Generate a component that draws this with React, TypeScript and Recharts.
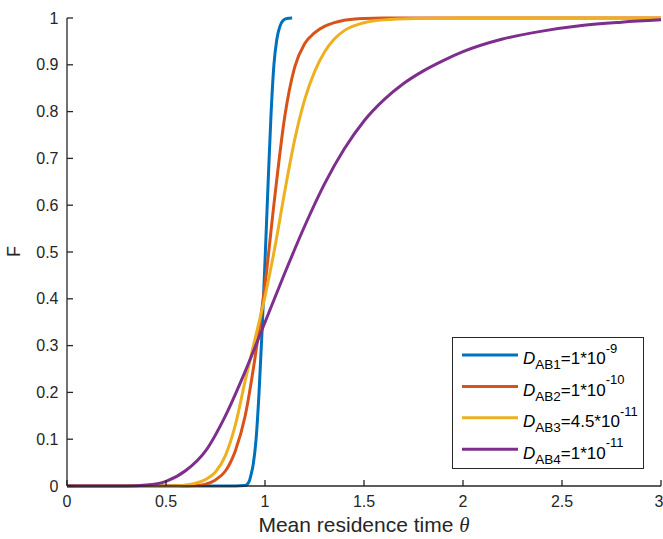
import React from "react";
import { LineChart, Line, XAxis, YAxis, Legend } from "recharts";

// Cumulative residence time distributions F(θ) for four diffusivities
const thetaAB1 = [0, 0.85, 0.9, 0.92, 0.93, 0.94, 0.955, 0.97, 0.985, 1.0, 1.015, 1.03, 1.045, 1.06, 1.075, 1.09, 1.11, 1.137];
const fAB1 = [0, 0, 0.001, 0.01, 0.025, 0.045, 0.1, 0.2, 0.33, 0.48, 0.64, 0.79, 0.9, 0.955, 0.982, 0.994, 0.999, 1.0];

const thetaAB2 = [0, 0.6, 0.65, 0.7, 0.75, 0.8, 0.85, 0.9, 0.95, 1.0, 1.05, 1.1, 1.15, 1.2, 1.25, 1.3, 1.35, 1.4, 1.5, 1.6, 2.0, 3.0];
const fAB2 = [0, 0, 0.001, 0.004, 0.013, 0.032, 0.075, 0.15, 0.275, 0.43, 0.62, 0.79, 0.895, 0.945, 0.968, 0.982, 0.99, 0.995, 0.999, 1.0, 1.0, 1.0];

const thetaAB3 = [0, 0.55, 0.6, 0.65, 0.7, 0.75, 0.8, 0.85, 0.9, 0.95, 1.0, 1.05, 1.1, 1.15, 1.2, 1.25, 1.3, 1.35, 1.4, 1.5, 1.6, 1.8, 2.0, 3.0];
const fAB3 = [0, 0, 0.002, 0.006, 0.014, 0.03, 0.065, 0.13, 0.225, 0.315, 0.405, 0.51, 0.63, 0.74, 0.825, 0.885, 0.927, 0.955, 0.973, 0.99, 0.996, 0.999, 1.0, 1.0];

const thetaAB4 = [0, 0.3, 0.4, 0.5, 0.6, 0.7, 0.8, 0.9, 1.0, 1.1, 1.2, 1.3, 1.4, 1.5, 1.6, 1.7, 1.8, 1.9, 2.0, 2.2, 2.4, 2.6, 2.8, 3.0];
const fAB4 = [0, 0, 0.002, 0.01, 0.033, 0.075, 0.15, 0.245, 0.35, 0.455, 0.555, 0.645, 0.72, 0.78, 0.825, 0.86, 0.887, 0.909, 0.928, 0.955, 0.972, 0.984, 0.991, 0.996];

const xTicks = [0, 0.5, 1, 1.5, 2, 2.5, 3];
const yTicks = [0, 0.1, 0.2, 0.3, 0.4, 0.5, 0.6, 0.7, 0.8, 0.9, 1];

const seriesSubscripts = ["AB1", "AB2", "AB3", "AB4"];
const seriesCoefficients = ["1", "1", "4.5", "1"];
const seriesExponents = ["-9", "-10", "-11", "-11"];
const seriesColors = ["#0072BD", "#D95319", "#EDB120", "#7E2F8E"];

const toPoints = (theta: number[], f: number[]) => theta.map((t, i) => ({ theta: t, F: f[i] }));

const series = [
  toPoints(thetaAB1, fAB1),
  toPoints(thetaAB2, fAB2),
  toPoints(thetaAB3, fAB3),
  toPoints(thetaAB4, fAB4),
].map((data, i) => ({
  data,
  color: seriesColors[i],
  sub: seriesSubscripts[i],
  coef: seriesCoefficients[i],
  exp: seriesExponents[i],
}));

const FONT = "'Liberation Sans', Arial, Helvetica, sans-serif";
const INK = "#262626";

const LegendBox = () => (
  <svg width={192} height={132} style={{ display: "block" }}>
    <rect x={0.5} y={0.5} width={191} height={131} fill="#fff" stroke={INK} strokeWidth={1} />
    {series.map((s, i) => {
      const ly = 18 + 31.4 * i;
      return (
        <g key={s.sub}>
          <line x1={10} x2={66} y1={ly} y2={ly} stroke={s.color} strokeWidth={3} />
          <text x={71} y={ly + 9.3} fontFamily={FONT} fontSize={17} fill="#000">
            <tspan fontStyle="italic">D</tspan>
            <tspan fontSize={13.5} dy={5}>{s.sub}</tspan>
            <tspan fontSize={17} dy={-5}>{`=${s.coef}*10`}</tspan>
            <tspan fontSize={13} dy={-11.5}>{s.exp}</tspan>
          </text>
        </g>
      );
    })}
  </svg>
);

export default function App() {
  return (
    <div style={{ width: 663, height: 539, background: "#fff" }}>
      <style>{"body{margin:0}"}</style>
      <LineChart width={663} height={539} margin={{ top: 18, right: 2, bottom: 0, left: 0 }}>
        <XAxis
          dataKey="theta"
          type="number"
          domain={[0, 3]}
          ticks={xTicks}
          allowDuplicatedCategory={false}
          height={53}
          stroke={INK}
          strokeWidth={1.3}
          tickSize={-6}
          tickMargin={16}
          tick={{ fill: INK, fontSize: 16, fontFamily: FONT }}
          tickFormatter={(v: number) => String(v)}
          label={{
            content: (props: any) => {
              const vb = props.viewBox || { x: 67, y: 486, width: 594 };
              return (
                <text
                  x={vb.x + vb.width / 2}
                  y={vb.y + 46}
                  textAnchor="middle"
                  fontFamily={FONT}
                  fontSize={21}
                  fill={INK}
                >
                  Mean residence time{" "}
                  <tspan fontStyle="italic" fontFamily="'Liberation Serif', 'Times New Roman', serif">
                    θ
                  </tspan>
                </text>
              );
            },
          }}
        />
        <YAxis
          type="number"
          domain={[0, 1]}
          ticks={yTicks}
          width={67}
          stroke={INK}
          strokeWidth={1.3}
          tickSize={-6}
          tickMargin={14.5}
          tick={{ fill: INK, fontSize: 16, fontFamily: FONT }}
          tickFormatter={(v: number) => String(v)}
          label={{
            content: () => (
              <text
                x={20}
                y={251.5}
                transform="rotate(-90 20 251.5)"
                textAnchor="middle"
                fontFamily={FONT}
                fontSize={18}
                fill={INK}
              >
                F
              </text>
            ),
          }}
        />
        {series.map((s) => (
          <Line
            key={s.sub}
            data={s.data}
            dataKey="F"
            name={s.sub}
            type="monotone"
            stroke={s.color}
            strokeWidth={3}
            dot={false}
            activeDot={false}
            isAnimationActive={false}
          />
        ))}
        <Legend
          layout="horizontal"
          verticalAlign="middle"
          align="center"
          wrapperStyle={{ left: 452, top: 337, width: 192, height: 132 }}
          content={() => <LegendBox />}
        />
      </LineChart>
    </div>
  );
}
